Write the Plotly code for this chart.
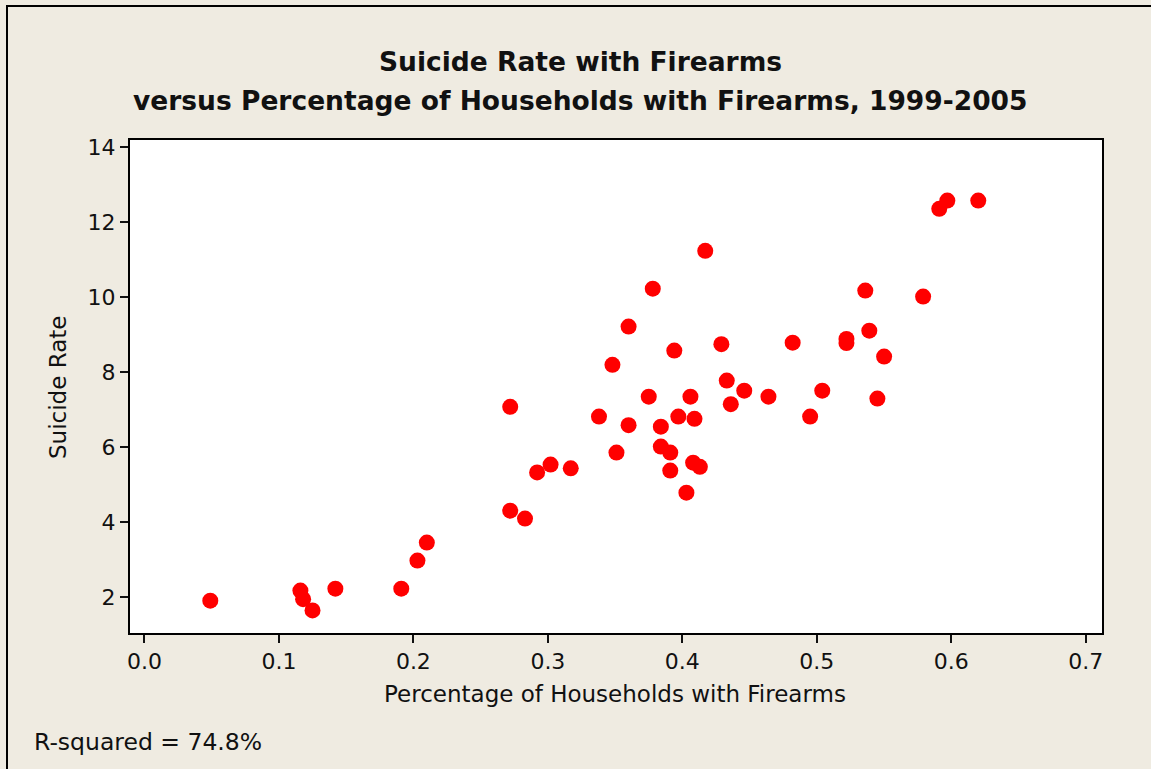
import plotly.graph_objects as go

# Share of households owning firearms vs. firearm suicide rate, by state (1999-2005)
pct_households = [
    0.049, 0.116, 0.118, 0.125, 0.142, 0.191, 0.203, 0.210,
    0.417, 0.378, 0.360, 0.394, 0.429, 0.482, 0.348, 0.433,
    0.446, 0.464, 0.436, 0.375, 0.406, 0.272, 0.397, 0.409,
    0.338, 0.360, 0.384, 0.384, 0.391, 0.351, 0.302, 0.292,
    0.317, 0.391, 0.408, 0.413, 0.403, 0.272, 0.283,
    0.597, 0.591, 0.620, 0.536, 0.579, 0.539, 0.522, 0.522,
    0.550, 0.504, 0.545, 0.495,
]
suicide_rate = [
    1.91, 2.18, 1.95, 1.65, 2.23, 2.23, 2.98, 3.46,
    11.24, 10.23, 9.22, 8.58, 8.75, 8.79, 8.20, 7.78,
    7.51, 7.35, 7.15, 7.35, 7.35, 7.08, 6.82, 6.76,
    6.82, 6.59, 6.55, 6.02, 5.86, 5.86, 5.54, 5.33,
    5.44, 5.38, 5.59, 5.48, 4.79, 4.31, 4.10,
    12.58, 12.36, 12.58, 10.18, 10.02, 9.11, 8.89, 8.78,
    8.42, 7.51, 7.30, 6.82,
]
x_ticks = [0.0, 0.1, 0.2, 0.3, 0.4, 0.5, 0.6, 0.7]
x_ticklabels = ["0.0", "0.1", "0.2", "0.3", "0.4", "0.5", "0.6", "0.7"]
y_ticks = [2, 4, 6, 8, 10, 12, 14]

title_lines = ["Suicide Rate with Firearms",
               "versus Percentage of Households with Firearms, 1999-2005"]
r_squared_text = "R-squared = 74.8%"

BG = "#EFEBE1"
FONT = "DejaVu Sans"
INK = "#111111"

W, H = 1151, 769
ML, MR, MT, MB = 130, 49, 140, 136
PW, PH = W - ML - MR, H - MT - MB


def px_x(p):
    return (p - ML) / PW


def px_y(p):
    return (H - MB - p) / PH


fig = go.Figure()
fig.add_trace(go.Scatter(
    x=pct_households, y=suicide_rate, mode="markers",
    marker=dict(color="#FF0000", size=16, line=dict(width=0)),
    hoverinfo="x+y", showlegend=False,
))

axis_common = dict(
    showgrid=False, zeroline=False, showline=True, linecolor="black",
    linewidth=2, mirror=True, ticks="outside", ticklen=8, tickwidth=1.5,
    tickcolor=INK, tickfont=dict(family=FONT, size=22, color=INK),
)
fig.update_xaxes(range=[-0.0107, 0.712], tickvals=x_ticks,
                 ticktext=x_ticklabels, **axis_common)
fig.update_yaxes(range=[1.048, 14.195], tickvals=y_ticks, **axis_common)

annotations = [
    dict(text="<b>" + title_lines[0] + "</b>", x=px_x(580), y=px_y(62),
         font=dict(family=FONT, size=26.5, color=INK)),
    dict(text="<b>" + title_lines[1] + "</b>", x=px_x(580), y=px_y(101),
         font=dict(family=FONT, size=26.5, color=INK)),
    dict(text="Percentage of Households with Firearms", x=px_x(615),
         y=px_y(694), font=dict(family=FONT, size=23, color=INK)),
    dict(text="Suicide Rate", x=px_x(58), y=px_y(388), textangle=-90,
         font=dict(family=FONT, size=23, color=INK)),
    dict(text=r_squared_text, x=px_x(32), y=px_y(742), xanchor="left",
         font=dict(family=FONT, size=23.5, color=INK)),
]
for a in annotations:
    a.setdefault("xanchor", "center")
    a.update(xref="paper", yref="paper", yanchor="middle", showarrow=False)
fig.update_layout(annotations=annotations)

# outer frame (left and top edges)
fig.add_shape(type="line", xref="paper", yref="paper",
              x0=px_x(7), x1=px_x(7), y0=px_y(6), y1=px_y(H + 5),
              line=dict(color="black", width=2))
fig.add_shape(type="line", xref="paper", yref="paper",
              x0=px_x(6), x1=px_x(W + 5), y0=px_y(6), y1=px_y(6),
              line=dict(color="black", width=2))

fig.update_layout(
    width=W, height=H,
    margin=dict(l=ML, r=MR, t=MT, b=MB, pad=0),
    paper_bgcolor=BG, plot_bgcolor="white",
    font=dict(family=FONT, color=INK),
)

fig.write_html("out.html", include_plotlyjs=True, full_html=True,
               config={"displayModeBar": False})
